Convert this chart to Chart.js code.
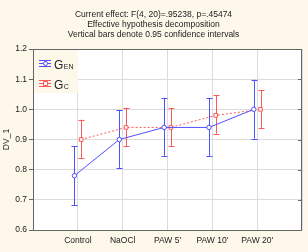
<!DOCTYPE html>
<html>
<head>
<meta charset="utf-8">
<script src="https://cdn.jsdelivr.net/npm/chart.js@4"></script>
<style>
  body { margin: 0; background: #fdf8ea; }
  canvas { display: block; }
</style>
</head>
<body>
<canvas id="chart" width="308" height="252"></canvas>
<script>
// data
const categories = ['Control', 'NaOCl', "PAW 5'", "PAW 10'", "PAW 20'"];
const yTicks = [0.6, 0.7, 0.8, 0.9, 1.0, 1.1, 1.2];
const titleLines = [
    'Current effect: F(4, 20)=.95238, p=.45474',
    'Effective hypothesis decomposition',
    'Vertical bars denote 0.95 confidence intervals'
];

const genMean = [0.78, 0.90, 0.94, 0.94, 1.00];
const genLow  = [0.683, 0.806, 0.846, 0.846, 0.903];
const genHigh = [0.878, 0.998, 1.038, 1.038, 1.098];

const gcMean = [0.90, 0.94, 0.94, 0.98, 1.00];
const gcLow  = [0.839, 0.878, 0.877, 0.919, 0.939];
const gcHigh = [0.966, 1.005, 1.005, 1.047, 1.064];

const blue = '#5050ff';
const red = '#ff5a5a';
const shift = 0.075;

function points(vals, dx) {
    return vals.map((v, i) => ({ x: i + 1 + dx, y: v }));
}

const series = [
    { mean: genMean, low: genLow, high: genHigh, color: blue, dx: -shift, main: 'G', sub: 'EN' },
    { mean: gcMean, low: gcLow, high: gcHigh, color: red, dx: shift, main: 'G', sub: 'C' }
];

// error bars, drawn under the points
const errorBars = {
    id: 'errorBars',
    beforeDatasetsDraw(chart) {
        const ctx = chart.ctx;
        const xs = chart.scales.x, ys = chart.scales.y;
        ctx.save();
        series.forEach(s => {
            ctx.strokeStyle = s.color;
            ctx.lineWidth = 1;
            s.mean.forEach((m, i) => {
                const x = Math.round(xs.getPixelForValue(i + 1 + s.dx)) + 0.5;
                const y1 = ys.getPixelForValue(s.low[i]);
                const y2 = ys.getPixelForValue(s.high[i]);
                ctx.beginPath();
                ctx.moveTo(x, y1); ctx.lineTo(x, y2);
                ctx.moveTo(x - 3, Math.round(y1) + 0.5); ctx.lineTo(x + 3, Math.round(y1) + 0.5);
                ctx.moveTo(x - 3, Math.round(y2) + 0.5); ctx.lineTo(x + 3, Math.round(y2) + 0.5);
                ctx.stroke();
            });
        });
        ctx.restore();
    }
};

// title, frame and legend box
const decor = {
    id: 'decor',
    beforeDraw(chart) {
        const a = chart.chartArea;
        const ctx = chart.ctx;
        ctx.save();
        ctx.fillStyle = '#ffffff';
        ctx.fillRect(a.left, a.top, a.right - a.left, a.bottom - a.top);
        ctx.fillStyle = '#222';
        ctx.font = '8.5px "Liberation Sans", Arial, sans-serif';
        ctx.textAlign = 'center';
        ctx.textBaseline = 'middle';
        const cx = (a.left + a.right) / 2 - 14;
        titleLines.forEach((t, i) => ctx.fillText(t, cx, 15 + i * 10));
        ctx.restore();
    },
    afterDraw(chart) {
        const a = chart.chartArea;
        const ctx = chart.ctx;
        const ys = chart.scales.y;
        ctx.save();
        // frame
        ctx.strokeStyle = '#666';
        ctx.lineWidth = 1;
        ctx.strokeRect(Math.round(a.left) + 0.5, Math.round(a.top) + 0.5,
            Math.round(a.right - a.left) - 1, Math.round(a.bottom - a.top));
        // inner ticks on right side
        ctx.beginPath();
        yTicks.forEach(v => {
            const y = Math.round(ys.getPixelForValue(v)) + 0.5;
            ctx.moveTo(a.right - 4, y); ctx.lineTo(a.right, y);
        });
        ctx.stroke();
        // legend
        const lx = a.left + 1, ly = a.top + 1;
        ctx.fillStyle = '#fdf8ea';
        ctx.fillRect(lx, ly, 44, 43);
        series.forEach((s, i) => {
            const cy = ly + 13 + i * 20 + 0.5;
            const x0 = lx + 5, x1 = lx + 17, xc = lx + 11;
            ctx.strokeStyle = s.color;
            ctx.beginPath();
            ctx.moveTo(x0, cy - 3); ctx.lineTo(x1, cy - 3);
            ctx.moveTo(x0, cy); ctx.lineTo(x1, cy);
            ctx.moveTo(x0, cy + 3); ctx.lineTo(x1, cy + 3);
            ctx.moveTo(xc + 0.5, cy - 3); ctx.lineTo(xc + 0.5, cy + 3);
            ctx.stroke();
            ctx.fillStyle = '#fff';
            ctx.beginPath();
            if (i === 0) ctx.arc(xc + 0.5, cy, 2, 0, Math.PI * 2);
            else ctx.rect(xc - 1.5, cy - 2, 4, 4);
            ctx.fill(); ctx.stroke();
            ctx.fillStyle = '#222';
            ctx.textAlign = 'left';
            ctx.textBaseline = 'alphabetic';
            ctx.font = '12px "Liberation Sans", Arial, sans-serif';
            ctx.fillText(s.main, lx + 20, cy + 5);
            const w = ctx.measureText(s.main).width;
            ctx.font = '7px "Liberation Sans", Arial, sans-serif';
            ctx.fillText(s.sub, lx + 20 + w + 0.5, cy + 5);
        });
        ctx.restore();
    }
};

new Chart(document.getElementById('chart'), {
    type: 'line',
    data: {
        datasets: [
            {
                label: 'GEN',
                data: points(genMean, -shift),
                borderColor: blue,
                borderWidth: 1,
                pointStyle: 'circle',
                pointRadius: 2.2,
                pointBackgroundColor: '#fff',
                pointBorderColor: blue,
                pointBorderWidth: 1
            },
            {
                label: 'GC',
                data: points(gcMean, shift),
                borderColor: red,
                borderWidth: 1,
                borderDash: [2, 2],
                pointStyle: 'rect',
                pointRadius: 2.6,
                pointBackgroundColor: '#fff',
                pointBorderColor: red,
                pointBorderWidth: 1
            }
        ]
    },
    options: {
        responsive: false,
        animation: false,
        layout: { padding: { top: 49, right: 6, left: 0, bottom: 0 } },
        plugins: {
            legend: { display: false },
            tooltip: { enabled: false }
        },
        scales: {
            x: {
                type: 'linear',
                min: 0,
                max: 6,
                afterBuildTicks(scale) {
                    scale.ticks = [0, 1, 2, 3, 4, 5, 6].map(v => ({ value: v }));
                },
                afterFit(scale) { scale.height = 22; },
                ticks: {
                    autoSkip: false,
                    maxRotation: 0,
                    padding: 6,
                    color: '#222',
                    font: { size: 8.5, family: '"Liberation Sans", Arial, sans-serif' },
                    callback: v => categories[v - 1] || ''
                },
                grid: { color: '#dcdcdc', drawTicks: false },
                border: { display: false }
            },
            y: {
                min: 0.6,
                max: 1.2,
                afterBuildTicks(scale) {
                    scale.ticks = yTicks.map(v => ({ value: v }));
                },
                afterFit(scale) { scale.width = 33; },
                title: {
                    display: true,
                    text: 'DV_1',
                    color: '#222',
                    padding: { top: 2, bottom: 0 },
                    font: { size: 8.5, family: '"Liberation Sans", Arial, sans-serif' }
                },
                ticks: {
                    padding: 2,
                    color: '#222',
                    font: { size: 8.5, family: '"Liberation Sans", Arial, sans-serif' },
                    callback: v => v.toFixed(1)
                },
                grid: { color: '#dcdcdc', tickColor: '#666', tickLength: 4 },
                border: { display: false }
            }
        }
    },
    plugins: [decor, errorBars]
});
</script>
</body>
</html>
